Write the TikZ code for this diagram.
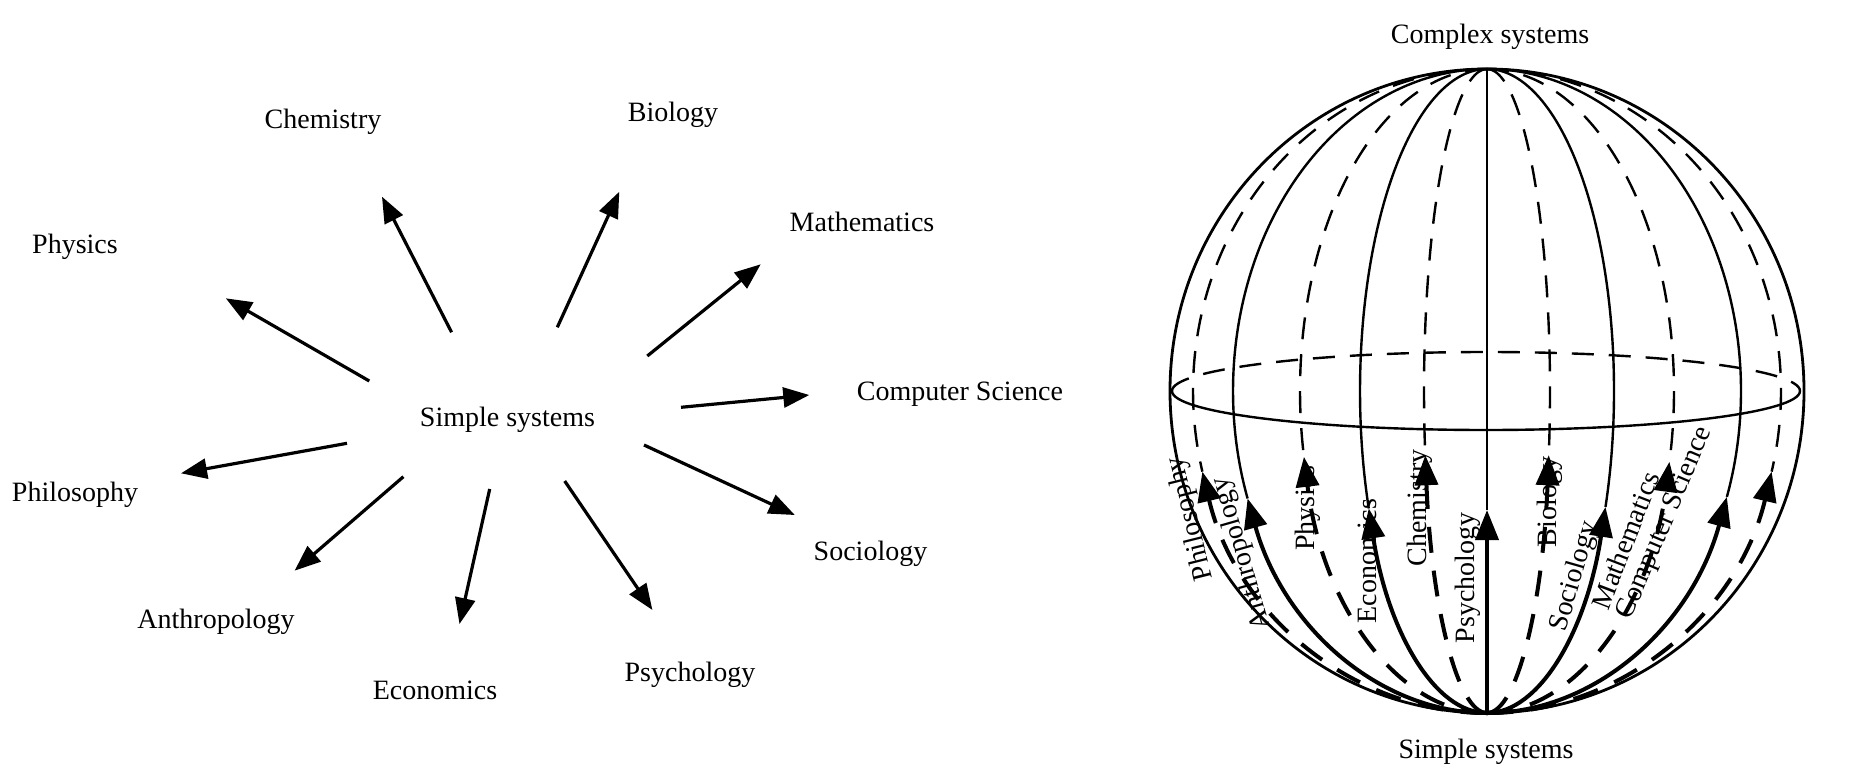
\documentclass[tikz,border=0pt]{standalone}
\usepackage{fontspec}
\setmainfont{Liberation Serif}
\usetikzlibrary{arrows.meta}
\begin{document}
\begin{tikzpicture}[x=0.5pt,y=-0.5pt,
  lbl/.style={font=\fontsize{14}{16}\selectfont, inner sep=0pt},
  ray/.style={line width=1.6pt, -{Triangle[length=13pt,width=10pt]}},
  merid/.style={line width=1.2pt},
  meriddash/.style={line width=1.2pt, dash pattern=on 11pt off 7.5pt},
  outline/.style={line width=1.4pt},
  arrsolid/.style={line width=2pt, -{Triangle[length=15pt,width=11.5pt]}},
  arrdash/.style={arrsolid, dash pattern=on 13pt off 9pt},
]
\useasboundingbox (0,0) rectangle (1868,781);

% ---------------- left diagram ----------------
\node[lbl,anchor=base] (simple) at (507.5,426.5) {Simple systems};
\node[lbl,anchor=base] (chem)   at (323,128.5) {Chemistry};
\node[lbl,anchor=base] (bio)    at (673,121.5) {Biology};
\node[lbl,anchor=base] (phys)   at (75,253.5) {Physics};
\node[lbl,anchor=base] (math)   at (862,231.5) {Mathematics};
\node[lbl,anchor=base] (cs)     at (960,400) {Computer Science};
\node[lbl,anchor=base] (phil)   at (75,501.7) {Philosophy};
\node[lbl,anchor=base] (soc)    at (870.5,560) {Sociology};
\node[lbl,anchor=base] (anth)   at (216,628.3) {Anthropology};
\node[lbl,anchor=base] (psy)    at (690,681.7) {Psychology};
\node[lbl,anchor=base] (eco)    at (435,699.3) {Economics};

\coordinate (s-chem) at (451.6,332.3);  \coordinate (e-chem) at (382,196.7);
\coordinate (s-bio)  at (557.3,327.3);  \coordinate (e-bio)  at (619.3,191.7);
\coordinate (s-phys) at (369.3,381);    \coordinate (e-phys) at (225.8,298.3);
\coordinate (s-math) at (647.3,356);    \coordinate (e-math) at (760.7,264.3);
\coordinate (s-cs)   at (681,407.3);    \coordinate (e-cs)   at (809.3,395);
\coordinate (s-phil) at (347,443.3);    \coordinate (e-phil) at (181,473.3);
\coordinate (s-soc)  at (644,445);      \coordinate (e-soc)  at (794.8,515);
\coordinate (s-anth) at (403.4,476.7);  \coordinate (e-anth) at (294.6,570.7);
\coordinate (s-eco)  at (489.7,489);    \coordinate (e-eco)  at (459.5,624);
\coordinate (s-psy)  at (564.7,481);    \coordinate (e-psy)  at (652.4,610);

\foreach \n in {chem,bio,phys,math,cs,phil,soc,anth,eco,psy}
  \draw[ray] (s-\n) -- (e-\n);

% ---------------- sphere ----------------
\node[lbl,anchor=base] (complex) at (1490,43.5) {Complex systems};
\node[lbl,anchor=base] (simple2) at (1486,758.5) {Simple systems};

\node[lbl,anchor=mid,rotate=104] (l-phil) at (1193,518) {Philosophy};
\node[lbl,anchor=mid,rotate=106] (l-anth) at (1244,553) {Anthropology};
\node[lbl,anchor=mid,rotate=90]  (l-phys) at (1310,508) {Physics};
\node[lbl,anchor=mid,rotate=90]  (l-eco)  at (1372,561) {Economics};
\node[lbl,anchor=mid,rotate=90]  (l-chem) at (1422,508) {Chemistry};
\node[lbl,anchor=mid,rotate=90]  (l-psy)  at (1470,578) {Psychology};
\node[lbl,anchor=mid,rotate=90]  (l-bio)  at (1552,502) {Biology};
\node[lbl,anchor=mid,rotate=74]  (l-soc)  at (1577,577) {Sociology};
\node[lbl,anchor=mid,rotate=69]  (l-math) at (1630,542) {Mathematics};
\node[lbl,anchor=mid,rotate=67]  (l-cs)   at (1667,524) {Computer Science};

\coordinate (N) at (1487,69);
\coordinate (S) at (1487,713);

% outline
\draw[outline] (1487,391) ellipse [x radius=317, y radius=322];

% equator
\draw[merid] (1172,391) arc[start angle=180, end angle=0, x radius=314, y radius=39];
\draw[meriddash] (1172,391) arc[start angle=180, end angle=360, x radius=314, y radius=39];

% upper (thin) parts of meridians, left side
\draw[meriddash] (N) arc[start angle=270, end angle=165.5, x radius=294, y radius=322];
\draw[merid]     (N) arc[start angle=270, end angle=160.5, x radius=254, y radius=322];
\draw[meriddash] (N) arc[start angle=270, end angle=168.2, x radius=187, y radius=322];
\draw[merid]     (N) arc[start angle=270, end angle=158.6, x radius=127, y radius=322];
\draw[meriddash] (N) arc[start angle=270, end angle=168.5, x radius=63,  y radius=322];
% centre
\draw[merid] (N) -- (1487,510);
% right side
\draw[meriddash] (N) arc[start angle=-90, end angle=11.5, x radius=63,  y radius=322];
\draw[merid]     (N) arc[start angle=-90, end angle=21.1, x radius=127, y radius=322];
\draw[meriddash] (N) arc[start angle=-90, end angle=12.7, x radius=187, y radius=322];
\draw[merid]     (N) arc[start angle=-90, end angle=19.2, x radius=254, y radius=322];
\draw[meriddash] (N) arc[start angle=-90, end angle=14.5, x radius=294, y radius=322];

% thick arrows from the south pole
\draw[arrdash]  (S) arc[start angle=90, end angle=165.5, x radius=294, y radius=322];
\draw[arrsolid] (S) arc[start angle=90, end angle=160.5, x radius=254, y radius=322];
\draw[arrdash]  (S) arc[start angle=90, end angle=168.2, x radius=187, y radius=322];
\draw[arrsolid] (S) arc[start angle=90, end angle=158.6, x radius=127, y radius=322];
\draw[arrdash]  (S) arc[start angle=90, end angle=168.5, x radius=63,  y radius=322];
\draw[arrsolid] (S) -- (1487,510);
\draw[arrdash]  (S) arc[start angle=90, end angle=11.5, x radius=63,  y radius=322];
\draw[arrsolid] (S) arc[start angle=90, end angle=21.1, x radius=127, y radius=322];
\draw[arrdash]  (S) arc[start angle=90, end angle=12.7, x radius=187, y radius=322];
\draw[arrsolid] (S) arc[start angle=90, end angle=19.2, x radius=254, y radius=322];
\draw[arrdash]  (S) arc[start angle=90, end angle=14.5, x radius=294, y radius=322];
\end{tikzpicture}
\end{document}
